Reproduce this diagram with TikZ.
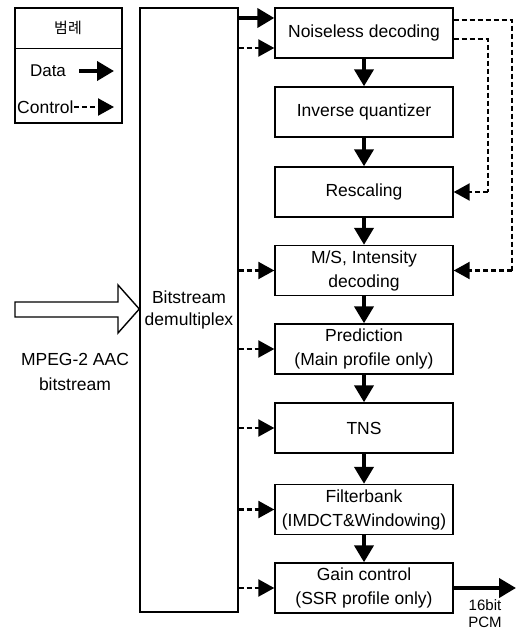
\documentclass[tikz,border=0pt]{standalone}
\usepackage{fontspec}
\setmainfont{Liberation Sans}
\newfontfamily\kr{Noto Sans CJK KR}
\usetikzlibrary{arrows.meta,calc}
\begin{document}
\begin{tikzpicture}[x=1pt,y=-1pt,
  box/.style={draw,line width=1.4pt,minimum width=178pt,minimum height=50pt,inner sep=1pt,align=center,font=\fontsize{17.5}{24}\selectfont},
  data/.style={line width=4pt,-{Triangle[length=17pt,width=19pt]}},
  ctrl/.style={line width=2.3pt,dash pattern=on 5pt off 3pt,-{Triangle[length=16pt,width=17pt]}},
  ctrlline/.style={line width=2.3pt,dash pattern=on 5pt off 3pt},
  lbl/.style={inner sep=0pt,align=center}]
\useasboundingbox (0,0) rectangle (516,631);
% legend
\node[draw,line width=1.2pt,minimum width=107pt,minimum height=115pt,inner sep=0pt] (leg) at (68.5,65.5) {};
\coordinate (legsep) at (15,48);
\draw[line width=0.8pt] (legsep) -- (legsep -| leg.east);
\node[lbl,font=\kr\fontsize{15}{18}\selectfont] (legt) at (68,28) {범례};
\node[lbl,font=\fontsize{17}{20}\selectfont] (legd) at (48,71) {Data};
\coordinate (ld1) at (79,71);
\coordinate (ld2) at (114,71);
\draw[data] (ld1) -- (ld2);
\node[lbl,font=\fontsize{17.5}{20}\selectfont,anchor=west] (legc) at (17,107) {Control};
\coordinate (lc1) at (114,107);
\draw[ctrl] (legc.east) -- (lc1);
% demux
\node[draw,line width=1.4pt,minimum width=98pt,minimum height=604pt,inner sep=0pt,align=center,font=\fontsize{17.5}{22}\selectfont] (dm) at (189,310) {Bitstream\\demultiplex};
% boxes
\node[box] (nd) at (364,33) {Noiseless decoding};
\node[box] (iq) at (364,112) {Inverse quantizer};
\node[box] (rs) at (364,192) {Rescaling};
\node[box] (ms) at (364,270.5) {M/S, Intensity\\decoding};
\node[box] (pr) at (364,349) {Prediction\\(Main profile only)};
\node[box] (tn) at (364,428) {TNS};
\node[box] (fb) at (364,509.5) {Filterbank\\(IMDCT\&Windowing)};
\node[box] (gc) at (364,588) {Gain control\\(SSR profile only)};
% vertical data
\foreach \a/\b in {nd/iq,iq/rs,rs/ms,ms/pr,pr/tn,tn/fb,fb/gc}
  \draw[data] (\a.south) -- (\b.north);
% demux to boxes
\coordinate (nda) at ([yshift=15pt]nd.west);
\coordinate (ndb) at ([yshift=-15pt]nd.west);
\draw[data] (dm.east |- nda) -- (nda);
\draw[ctrl] (dm.east |- ndb) -- (ndb);
\foreach \t in {ms,pr,tn,fb,gc}
  \draw[ctrl] (dm.east |- \t.west) -- (\t.west);
% feedback control
\coordinate (nde1) at ([yshift=13pt]nd.east);
\coordinate (nde2) at ([yshift=-6pt]nd.east);
\coordinate (rx1) at (512,0);
\coordinate (rx2) at (488,0);
\draw[ctrlline] (nde1) -- (nde1 -| rx1) -- (rx1 |- ms.east);
\draw[ctrl] (rx1 |- ms.east) -- (ms.east);
\draw[ctrlline] (nde2) -- (nde2 -| rx2) -- (rx2 |- rs.east);
\draw[ctrl] (rx2 |- rs.east) -- (rs.east);
% output
\coordinate (out) at (516,588);
\draw[data] (gc.east) -- (out);
\node[lbl,font=\fontsize{15}{17}\selectfont] (pcm) at (485,614) {16bit\\PCM};
% input arrow
\draw[line width=1.4pt,line join=miter] (15,302) -- (118,302) -- (118,285) -- (dm.west |- 0,309) -- (118,333) -- (118,317) -- (15,317) -- cycle;
\node[lbl,font=\fontsize{17.5}{25}\selectfont] (mpeg) at (75,372) {MPEG-2 AAC\\bitstream};
\end{tikzpicture}
\end{document}
